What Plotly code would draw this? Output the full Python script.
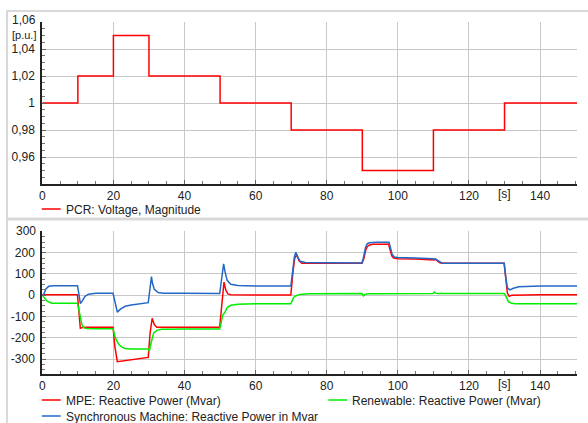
import plotly.graph_objects as go

# ---------------- data ----------------
# Top panel: PCR voltage magnitude (step signal)
t_pcr = [0, 10, 10, 20, 20, 30, 30, 50, 50, 70, 70, 90, 90, 110, 110, 130, 130, 150.4]
v_pcr = [1.00, 1.00, 1.02, 1.02, 1.05, 1.05, 1.02, 1.02, 1.00, 1.00, 0.98, 0.98, 0.95, 0.95, 0.98, 0.98, 1.00, 1.00]

# Bottom panel: reactive powers (Mvar)
t_mpe = [0, 9.9, 10.3, 10.7, 11.2, 12, 19.9, 20.4, 21.1, 25, 29.8, 30.3, 30.9, 31.5, 32.2, 40,
         49.9, 50.4, 51.1, 51.6, 52.2, 53, 60, 69.9, 70.5, 71.0, 71.6, 72.2, 73, 80,
         89.9, 90.4, 91.0, 91.4, 92, 93, 97.4, 97.8, 98.3, 98.8, 100, 105,
         109.9, 110.2, 110.5, 111, 111.8, 112.7, 120, 129.9, 130.3, 130.8, 131.3, 132, 140, 150.4]
q_mpe = [2, 2, -80, -155, -152, -150, -150, -240, -312, -302, -292, -180, -108, -138, -150, -150,
         -150, -60, 62, 25, 6, 2, 1, 1, 110, 175, 190, 162, 150, 150,
         150, 170, 215, 228, 236, 240, 240, 215, 185, 175, 172, 170,
         168, 166, 170, 162, 153, 150, 150, 150, 90, 10, -5, 0, 2, 2]

t_sm = [0, 0.4, 1.0, 1.8, 3, 9.9, 10.3, 10.7, 11.3, 12, 13, 15, 19.9, 20.3, 20.6, 21.1, 22, 23.3,
        25, 27, 29.8, 30.2, 30.7, 31.0, 31.5, 32.6, 34, 40, 49.9, 50.3, 50.7, 51.0, 51.4, 52, 53,
        55, 60, 69.9, 70.4, 70.9, 71.3, 71.8, 72.5, 74, 80, 89.9, 90.3, 90.9, 91.4, 92, 94, 97.5,
        97.9, 98.4, 99, 100, 105, 109.9, 110.2, 110.5, 110.9, 111.5, 112.3, 113, 120, 129.9,
        130.3, 130.8, 131.5, 132.5, 134, 140, 150.4]
q_sm = [0, 5, 30, 42, 45, 45, 5, -39, -25, -5, 5, 9, 9, -20, -55, -79, -65, -52,
        -46, -41, -35, 20, 88, 55, 28, 13, 10, 9, 8, 60, 130, 148, 110, 70, 52,
        46, 44, 44, 110, 180, 202, 180, 160, 154, 153, 152, 175, 225, 243, 247, 249, 249,
        225, 192, 180, 177, 175, 172, 168, 172, 168, 160, 152, 150, 150, 150,
        90, 35, 25, 33, 40, 43, 44]

t_ren = [0, 0.5, 1.2, 2, 2.7, 5, 9.9, 10.3, 10.7, 11.2, 11.6, 12.5, 15, 19.9, 20.3, 20.8, 21.5,
         22.3, 23.3, 25, 29.8, 30.1, 30.5, 30.9, 31.3, 32.2, 33.5, 40, 49.9, 50.3, 50.7, 51.4,
         52, 53, 55, 60, 69.9, 70.3, 70.7, 71.4, 72.5, 75, 80, 89.9, 90.3, 90.7, 91.5, 100,
         109.9, 110.2, 110.6, 111.2, 120, 129.9, 130.2, 130.6, 131.1, 131.8, 133, 140, 150.4]
q_ren = [0, -12, -25, -33, -37, -38, -38, -70, -110, -140, -152, -156, -157, -157, -185, -210, -230,
         -243, -250, -252, -253, -262, -230, -195, -178, -165, -160, -159, -158, -130, -95, -78,
         -58, -47, -42, -40, -40, -25, -10, -2, 4, 7, 8, 8, -3, 3, 7, 8,
         8, 15, 10, 8, 8, 8, 2, -15, -30, -36, -40, -40, -40]

x_tickvals = [0, 20, 40, 60, 80, 100, 120, 140]
x_ticktext = ["0", "20", "40", "60", "80", "100", "120", "140"]
y1_tickvals = [0.96, 0.98, 1.00, 1.02, 1.04]
y1_ticktext = ["0,96", "0,98", "1", "1,02", "1,04"]
y2_tickvals = [-300, -200, -100, 0, 100, 200]
y2_ticktext = ["-300", "-200", "-100", "0", "100", "200"]

name_pcr = "PCR: Voltage, Magnitude"
name_mpe = "MPE: Reactive Power (Mvar)"
name_ren = "Renewable: Reactive Power (Mvar)"
name_sm = "Synchronous Machine: Reactive Power in Mvar"

RED = "#ff0000"
GREEN = "#00ee00"
BLUE = "#2468c6"

# ---------------- figure ----------------
W, H = 588, 423
def px(x):
    return x / W
def py(y):
    return 1 - y / H

FONT = "Liberation Sans, Arial, sans-serif"
fig = go.Figure()

fig.add_trace(go.Scatter(x=t_pcr, y=v_pcr, mode="lines", name=name_pcr,
                         line=dict(color=RED, width=1.5), xaxis="x", yaxis="y"))
fig.add_trace(go.Scatter(x=t_mpe, y=q_mpe, mode="lines", name=name_mpe,
                         line=dict(color=RED, width=1.5), xaxis="x2", yaxis="y2"))
fig.add_trace(go.Scatter(x=t_ren, y=q_ren, mode="lines", name=name_ren,
                         line=dict(color=GREEN, width=1.5), xaxis="x2", yaxis="y2"))
fig.add_trace(go.Scatter(x=t_sm, y=q_sm, mode="lines", name=name_sm,
                         line=dict(color=BLUE, width=1.5), xaxis="x2", yaxis="y2"))

common_x = dict(range=[0, 150.4], tickvals=x_tickvals, ticktext=x_ticktext,
                showgrid=True, gridcolor="#c8c8c8", gridwidth=1,
                showline=True, linecolor="#222", linewidth=2,
                ticks="inside", ticklen=4, tickcolor="#666",
                minor=dict(dtick=5, tick0=0, ticks="inside", ticklen=3, tickcolor="#777", showgrid=False),
                tickfont=dict(family=FONT, size=12, color="#222"),
                zeroline=False, domain=[px(39.5), px(577)])
common_y = dict(showgrid=True, gridcolor="#c8c8c8", gridwidth=1,
                showline=True, linecolor="#222", linewidth=2,
                ticks="inside", ticklen=4, tickcolor="#666",
                tickfont=dict(family=FONT, size=12, color="#222"),
                ticklabelstandoff=3,
                zeroline=False)

fig.update_layout(
    width=W, height=H, margin=dict(l=0, r=0, t=0, b=0),
    paper_bgcolor="white", plot_bgcolor="white", showlegend=False,
    font=dict(family=FONT, size=12, color="#222"),
    xaxis=dict(**common_x, anchor="y"),
    yaxis=dict(**common_y, range=[0.94, 1.06], tickvals=y1_tickvals, ticktext=y1_ticktext,
               minor=dict(dtick=0.005, tick0=0.94, ticks="inside", ticklen=3, tickcolor="#777", showgrid=False),
               domain=[py(184), py(22)], anchor="x"),
    xaxis2=dict(**common_x, anchor="y2"),
    yaxis2=dict(**common_y, range=[-370, 302], tickvals=y2_tickvals, ticktext=y2_ticktext,
                minor=dict(dtick=25, tick0=0, ticks="inside", ticklen=3, tickcolor="#777", showgrid=False),
                domain=[py(374), py(231)], anchor="x2"),
)

shapes = [
    # panel frames
    dict(type="rect", xref="paper", yref="paper", x0=px(4), x1=px(600), y0=py(218.5), y1=py(11),
         line=dict(color="#d9d9d9", width=2), layer="below"),
    dict(type="rect", xref="paper", yref="paper", x0=px(4), x1=px(600), y0=py(440), y1=py(219.5),
         line=dict(color="#d9d9d9", width=2), layer="below"),
]
annotations = []
def ann(text, x, y, xanchor="left", xref="paper", yref="paper", size=12, yanchor="middle"):
    annotations.append(dict(text=text, x=x, y=y, xref=xref, yref=yref, xanchor=xanchor,
                            yanchor=yanchor, showarrow=False, borderpad=0,
                            font=dict(family=FONT, size=size, color="#222")))

# axis top labels and units
ann("1,06", px(34), py(28), "right", yanchor="bottom")
ann("[p.u.]", px(34), py(28), "right", yanchor="top", size=11)
ann("300", px(34), py(231.5), "right")
ann("[s]", 130, py(194), "center", xref="x")
ann("[s]", 130, py(384), "center", xref="x2")

# legends
def legend_item(name, color, x0, y):
    shapes.append(dict(type="line", xref="paper", yref="paper", x0=px(x0), x1=px(x0 + 19),
                       y0=py(y), y1=py(y), line=dict(color=color, width=1.5)))
    ann(name, px(x0 + 23), py(y + 1), "left")

legend_item(name_pcr, RED, 39, 209)
legend_item(name_mpe, RED, 39, 400)
legend_item(name_sm, BLUE, 39, 416)
legend_item(name_ren, GREEN, 327, 400)

fig.update_layout(shapes=shapes, annotations=annotations)
fig.write_html("out.html", config={"displayModeBar": False},
               post_script="document.body.style.margin='0px';document.body.style.overflow='hidden';")
